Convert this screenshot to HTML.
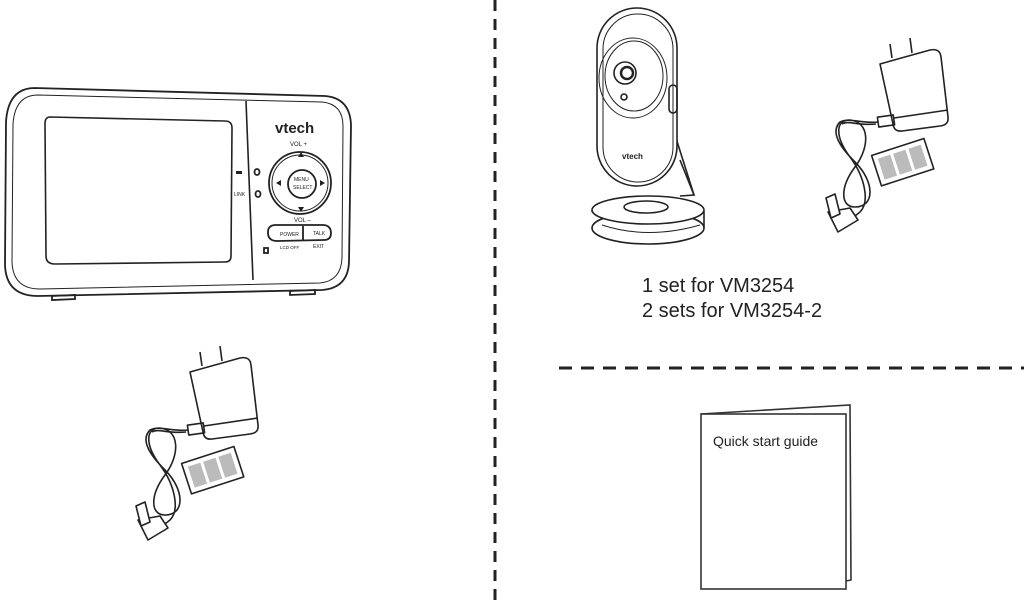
<!DOCTYPE html>
<html><head><meta charset="utf-8"><style>
html,body{margin:0;padding:0;background:#fff;}
svg{display:block}
text{font-family:"Liberation Sans",sans-serif;fill:#222}
</style></head><body>
<svg width="1024" height="606" viewBox="0 0 1024 606" xmlns="http://www.w3.org/2000/svg">
<defs>
<g id="chg" fill="none" stroke="#222" stroke-width="1.6" stroke-linejoin="round">
  <line x1="200" y1="352" x2="202" y2="366"/>
  <line x1="220" y1="346" x2="222" y2="361"/>
  <path d="M190,372 L240,358 Q250,356 251,365 L258,425 Q259,433 250,434 L212,439 Q204,440 203,432 Z" fill="#fff"/>
  <path d="M204,426 L258,418"/>
  <rect x="188" y="424" width="16" height="10" transform="rotate(-8 196 429)"/>
  <path d="M188,430 C170,432 160,425 150,430 C140,440 150,455 165,470 C185,490 185,515 165,515 C150,515 150,495 165,475 C180,455 180,430 160,428 C145,428 145,445 160,465 C175,485 180,510 170,520"/>
  <path d="M186,432 C168,434 158,428 152,432"/>
  <g transform="rotate(-18 210 470)">
    <rect x="185" y="455" width="55" height="32" fill="#fff"/>
    <rect x="190" y="460" width="13" height="22" fill="#bbb" stroke="none"/>
    <rect x="206" y="460" width="13" height="22" fill="#bbb" stroke="none"/>
    <rect x="222" y="460" width="13" height="22" fill="#bbb" stroke="none"/>
  </g>
  <path d="M170,520 L160,528"/>
  <path d="M138,520 L160,516 L168,528 L148,540 Z" fill="#fff"/>
  <path d="M136,506 L145,502 L150,522 L141,526 Z" fill="#fff"/>
</g>
</defs>

<!-- dashed separators -->
<line x1="495" y1="0" x2="495" y2="606" stroke="#222" stroke-width="3" stroke-dasharray="11 8"/>
<line x1="559" y1="368" x2="1024" y2="368" stroke="#222" stroke-width="3" stroke-dasharray="13 9"/>

<!-- monitor -->
<g fill="none" stroke="#222" stroke-width="1.8">
  <path d="M35,88 L325,96 Q350,98 351,125 L349,262 Q348,288 322,290 L38,296 Q6,296 5,265 L6,122 Q8,88 35,88 Z"/>
  <path d="M38,95 L322,102 Q343,104 343,126 L342,258 Q341,281 320,283 L40,289 Q13,289 12,262 L13,124 Q15,95 38,95 Z" stroke-width="1"/>
  <path d="M50,117 L225,121 Q232,121 232,128 L231,256 Q231,262 225,262 L55,264 Q46,264 46,256 L45,124 Q45,117 50,117 Z" stroke-width="1.6"/>
  <path d="M246,101 L253,280" stroke-width="1.6"/>
  <path d="M52,296 L75,295 L75,299 L52,300 Z"/>
  <path d="M290,291 L315,290 L315,294 L290,295 Z"/>
  <circle cx="300" cy="183" r="31"/>
  <circle cx="300" cy="183" r="28" stroke-width="1"/>
  <circle cx="302" cy="184" r="14"/>
  <path d="M268,232 Q268,225 276,225 L324,225 Q331,226 331,233 Q331,240 324,240 L277,241 Q269,241 268,234 Z"/>
  <line x1="303" y1="226" x2="303" y2="240"/>
  <ellipse cx="257" cy="172" rx="2.5" ry="3"/>
  <ellipse cx="258" cy="194" rx="2.5" ry="3"/>
  <rect x="264" y="248" width="4" height="5"/>
</g>
<text x="275" y="133" font-size="15" font-weight="bold">vtech</text>
<text x="290" y="146" font-size="6">VOL +</text>
<text x="294" y="222" font-size="6">VOL –</text>
<text x="294" y="181" font-size="5">MENU</text>
<text x="293" y="189" font-size="5">SELECT</text>
<text x="280" y="236" font-size="5">POWER</text>
<text x="313" y="235" font-size="5">TALK</text>
<text x="280" y="249" font-size="4.5">LCD OFF</text>
<text x="313" y="248" font-size="5">EXIT</text>
<text x="234" y="196" font-size="5">LINK</text>
<rect x="236" y="171" width="6" height="3" fill="#222"/>
<path d="M298,157 l3,-5 l3,5z M298,207 l3,5 l3,-5z M276,183 l5,-3 v6z M325,183 l-5,-3 v6z" fill="#222"/>

<!-- charger 1 -->
<use href="#chg"/>
<!-- charger 2 -->
<use href="#chg" transform="translate(690,-308)"/>

<!-- camera -->
<g fill="none" stroke="#222" stroke-width="1.6">
  <path d="M680,160 L694,195 L680,196" />
  <path d="M675,135 L694,195"/>
  <ellipse cx="648" cy="228" rx="56" ry="16" fill="#fff"/>
  <path d="M592,212 Q592,200 648,198 Q704,200 704,212 L704,228"/>
  <ellipse cx="648" cy="210" rx="56" ry="14" fill="#fff"/>
  <ellipse cx="646" cy="207" rx="22" ry="6"/>
  <path d="M602,225 Q648,240 700,225" stroke-width="1"/>
  <rect x="597" y="8" width="80" height="178" rx="40" fill="#fff"/>
  <rect x="603" y="14" width="70" height="168" rx="35" stroke-width="1"/>
  <ellipse cx="633" cy="78" rx="34" ry="40" stroke-width="1"/>
  <ellipse cx="634" cy="76" rx="29" ry="35" stroke-width="1"/>
  <circle cx="625" cy="73" r="11"/>
  <circle cx="627" cy="73" r="6" stroke-width="2.5"/>
  <circle cx="624" cy="97" r="3"/>
  <rect x="669" y="85" width="8" height="28" rx="4"/>
</g>
<text x="622" y="159" font-size="8" font-weight="bold">vtech</text>

<text x="642" y="292" font-size="20">1 set for VM3254</text>
<text x="642" y="317" font-size="20">2 sets for VM3254-2</text>

<!-- booklet -->
<g fill="#fff" stroke="#333" stroke-width="1.6">
  <path d="M701,414 L850,405 L851,580 L846,581"/>
  <rect x="701" y="414" width="145" height="175"/>
</g>
<text x="713" y="446" font-size="14">Quick start guide</text>
</svg>
</body></html>
